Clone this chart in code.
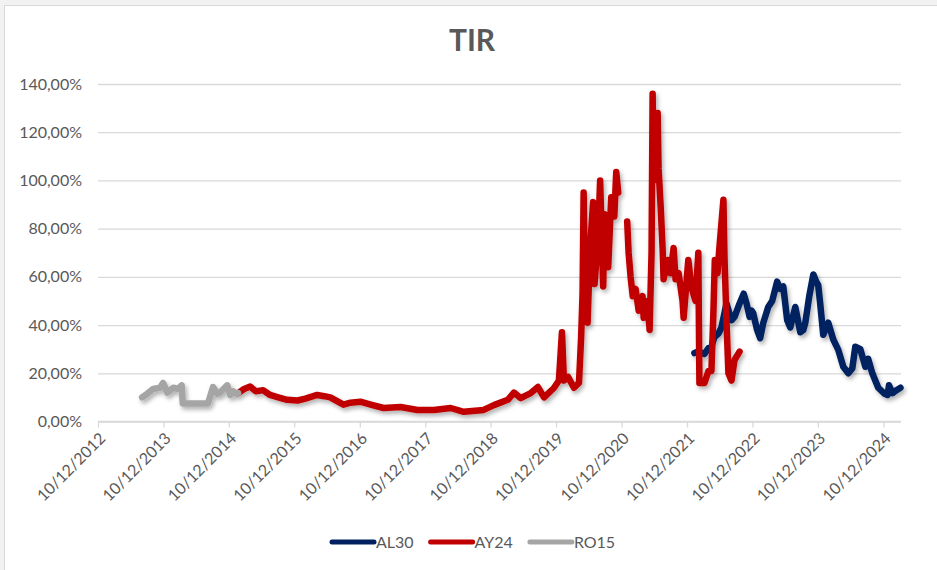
<!DOCTYPE html>
<html>
<head>
<meta charset="utf-8">
<script src="https://cdn.jsdelivr.net/npm/d3@7"></script>
<style>
  body { margin: 0; background: #f2f2f2; }
  text { font-family: Lato, "Open Sans", sans-serif; fill: #595959; }
</style>
</head>
<body>
<div id="chart-area"><svg></svg></div>
<script>
const seriesNames = ["AL30", "AY24", "RO15"];
const seriesColors = ["#002060", "#C00000", "#A5A5A5"];

// [fecha, TIR en %]
const al30 = [
  ["2022-01-20", 28.4], ["2022-02-11", 29], ["2022-03-17", 28], ["2022-04-09", 30.5],
  ["2022-04-25", 31], ["2022-05-12", 35], ["2022-06-04", 36.6], ["2022-06-20", 39],
  ["2022-07-18", 49], ["2022-08-15", 42], ["2022-09-01", 43.4], ["2022-09-24", 48],
  ["2022-10-22", 53], ["2022-11-07", 49], ["2022-11-24", 43.4], ["2022-12-05", 46],
  ["2022-12-14", 45], ["2023-01-05", 38], ["2023-01-22", 34.6], ["2023-02-08", 40.8],
  ["2023-03-08", 47.5], ["2023-03-30", 50], ["2023-04-27", 58], ["2023-05-14", 55],
  ["2023-05-31", 56], ["2023-06-22", 42], ["2023-07-09", 39], ["2023-08-06", 47.5],
  ["2023-09-03", 37], ["2023-09-20", 38], ["2023-10-01", 41], ["2023-10-23", 52],
  ["2023-11-15", 61], ["2023-12-01", 58], ["2023-12-12", 56.6], ["2023-12-23", 49],
  ["2024-01-09", 36], ["2024-02-06", 41], ["2024-03-05", 34], ["2024-04-02", 29.7],
  ["2024-04-30", 22.7], ["2024-05-28", 20], ["2024-06-19", 22], ["2024-07-06", 31],
  ["2024-08-03", 30], ["2024-08-31", 22.7], ["2024-09-16", 26], ["2024-10-09", 20],
  ["2024-11-11", 14], ["2024-12-16", 11.5], ["2025-01-02", 11], ["2025-01-10", 15],
  ["2025-01-30", 11.8], ["2025-02-21", 13], ["2025-03-15", 14]
];

const ay24 = [
  ["2015-01-31", 11.8], ["2015-03-05", 13.5], ["2015-04-08", 14.5], ["2015-05-10", 12.5],
  ["2015-06-19", 13], ["2015-07-28", 11], ["2015-09-12", 10], ["2015-10-31", 9],
  ["2015-12-28", 8.7], ["2016-02-10", 9.5], ["2016-04-16", 11], ["2016-05-26", 10.5],
  ["2016-06-28", 10], ["2016-09-10", 7], ["2016-10-19", 7.8], ["2016-12-13", 8.2],
  ["2017-02-09", 7], ["2017-04-22", 5.6], ["2017-07-25", 6], ["2017-10-28", 4.8],
  ["2018-01-27", 4.8], ["2018-05-01", 5.6], ["2018-07-13", 4], ["2018-11-01", 4.8],
  ["2018-12-28", 6.8], ["2019-03-16", 9], ["2019-04-19", 12], ["2019-05-26", 9.7],
  ["2019-07-22", 11.8], ["2019-08-31", 14.3], ["2019-10-04", 10], ["2019-11-28", 13.9],
  ["2019-12-26", 17], ["2020-01-12", 37], ["2020-01-23", 17], ["2020-02-15", 18.5],
  ["2020-03-19", 14], ["2020-04-16", 16], ["2020-04-28", 35], ["2020-05-06", 53],
  ["2020-05-12", 95], ["2020-05-20", 57], ["2020-06-03", 41], ["2020-06-17", 72],
  ["2020-07-04", 91], ["2020-07-12", 57], ["2020-08-01", 77], ["2020-08-12", 100],
  ["2020-08-29", 56], ["2020-09-06", 86], ["2020-09-26", 64], ["2020-10-13", 93],
  ["2020-10-30", 85], ["2020-11-10", 103.5], ["2020-11-21", 95], ["2020-12-15", null],
  ["2021-01-10", 83], ["2021-01-18", 70], ["2021-01-29", 60], ["2021-02-10", 52],
  ["2021-02-26", 55], ["2021-03-15", 46], ["2021-04-06", 52], ["2021-04-12", 43],
  ["2021-05-04", 50], ["2021-05-15", 38], ["2021-05-26", 70], ["2021-06-01", 136],
  ["2021-06-07", 100], ["2021-06-18", 110], ["2021-06-29", 128], ["2021-07-04", 105],
  ["2021-07-16", 89], ["2021-07-27", 71], ["2021-08-01", 59], ["2021-08-24", 67],
  ["2021-09-09", 61.5], ["2021-09-26", 72], ["2021-10-07", 59], ["2021-10-24", 61.5],
  ["2021-11-15", 50], ["2021-11-21", 43], ["2021-12-17", 67], ["2022-01-03", 56],
  ["2022-01-26", 50], ["2022-02-11", 70], ["2022-02-17", 16], ["2022-03-17", 16],
  ["2022-04-09", 21], ["2022-04-25", 21], ["2022-05-06", 45], ["2022-05-14", 67],
  ["2022-05-29", 61.5], ["2022-06-09", 72.5], ["2022-07-01", 92], ["2022-07-07", 68],
  ["2022-07-18", 42], ["2022-07-29", 20], ["2022-08-15", 17], ["2022-09-01", 25.5],
  ["2022-09-29", 29]
];

const ro15 = [
  ["2013-08-13", 10], ["2013-09-10", 11.5], ["2013-10-13", 13.5], ["2013-11-22", 14],
  ["2013-12-08", 16], ["2014-01-01", 12], ["2014-02-03", 14], ["2014-03-01", 13.5],
  ["2014-03-22", 15], ["2014-03-28", 7.5], ["2014-06-10", 7.5], ["2014-08-16", 7.5],
  ["2014-09-13", 14.3], ["2014-10-07", 11.5], ["2014-10-22", 12], ["2014-12-01", 15],
  ["2014-12-18", 11], ["2015-01-04", 12.5], ["2015-01-21", 11.5], ["2015-01-31", 11.8]
];

const yTicks = [0, 20, 40, 60, 80, 100, 120, 140];
const xTickYears = d3.range(2012, 2025);

const chartSize = { width: 937, height: 570 };
const plot = { left: 98, right: 901, top: 84, bottom: 421.5 };

const parseDate = d3.timeParse("%Y-%m-%d");
const formatTick = d3.timeFormat("%d/%m/%Y");
const formatPct = v => d3.format(".2f")(v).replace(".", ",") + "%";

const x = d3
  .scaleTime()
  .domain([new Date(2012, 11, 10), new Date(2025, 2, 18)])
  .range([plot.left, plot.right]);

const y = d3
  .scaleLinear()
  .domain([0, 140])
  .range([plot.bottom, plot.top]);

const svg = d3
  .select("#chart-area svg")
  .attr("width", chartSize.width)
  .attr("height", chartSize.height);

const defs = svg.append("defs");
defs
  .append("filter")
  .attr("id", "shadow")
  .attr("x", "-10%")
  .attr("y", "-10%")
  .attr("width", "120%")
  .attr("height", "120%")
  .append("feDropShadow")
  .attr("dx", 2)
  .attr("dy", 3)
  .attr("stdDeviation", 2)
  .attr("flood-color", "#000")
  .attr("flood-opacity", 0.3);

svg
  .append("rect")
  .attr("x", 4.5)
  .attr("y", 5.5)
  .attr("width", chartSize.width)
  .attr("height", chartSize.height)
  .attr("fill", "#fff")
  .attr("stroke", "#d9d9d9");

svg
  .append("text")
  .attr("x", 472)
  .attr("y", 51)
  .attr("text-anchor", "middle")
  .style("font-size", "30px")
  .style("font-weight", "bold")
  .text("TIR");

// gridlines + y labels
const yAxis = d3
  .axisLeft(y)
  .tickValues(yTicks)
  .tickSize(-(plot.right - plot.left))
  .tickPadding(16)
  .tickFormat(formatPct);

const gy = svg
  .append("g")
  .attr("transform", `translate(${plot.left},0)`)
  .call(yAxis);
gy.select(".domain").remove();
gy.selectAll("line").attr("stroke", "#d9d9d9").attr("stroke-width", 1.3);
gy.selectAll("text")
  .attr("fill", "#595959")
  .style("font-size", "16px");

// x axis
const xTicks = xTickYears.map(yr => new Date(yr, 11, 10));
const xAxis = d3
  .axisBottom(x)
  .tickValues(xTicks)
  .tickSize(6)
  .tickFormat(formatTick);

const gx = svg
  .append("g")
  .attr("transform", `translate(0,${plot.bottom})`)
  .call(xAxis);
gx.select(".domain")
  .attr("stroke", "#d9d9d9")
  .attr("stroke-width", 1.3)
  .attr("d", `M${plot.left},0H${plot.right}`);
gx.selectAll(".tick line").attr("stroke", "#d9d9d9").attr("stroke-width", 1.3);
gx.selectAll("text")
  .attr("fill", "#595959")
  .style("font-size", "16px")
  .attr("text-anchor", "end")
  .attr("y", 0)
  .attr("dy", "0.35em")
  .attr("transform", "translate(4,14) rotate(-45)");

// series
const line = d3
  .line()
  .defined(d => d[1] !== null)
  .x(d => x(parseDate(d[0])))
  .y(d => y(d[1]));

const allSeries = [al30, ay24, ro15];
svg
  .append("g")
  .attr("filter", "url(#shadow)")
  .selectAll("path")
  .data(allSeries)
  .join("path")
  .attr("d", line)
  .attr("fill", "none")
  .attr("stroke", (d, i) => seriesColors[i])
  .attr("stroke-width", 6.5)
  .attr("stroke-linejoin", "round")
  .attr("stroke-linecap", "round");

// legend
const legend = svg.append("g").attr("transform", "translate(332,542)");
let lx = 0;
seriesNames.forEach((name, i) => {
  legend
    .append("line")
    .attr("x1", lx)
    .attr("x2", lx + 42)
    .attr("stroke", seriesColors[i])
    .attr("stroke-width", 5)
    .attr("stroke-linecap", "round");
  const t = legend
    .append("text")
    .attr("x", lx + 44)
    .attr("dy", "0.36em")
    .style("font-size", "16px")
    .text(name);
  lx += 44 + t.node().getComputedTextLength() + 17;
});
</script>
</body>
</html>
